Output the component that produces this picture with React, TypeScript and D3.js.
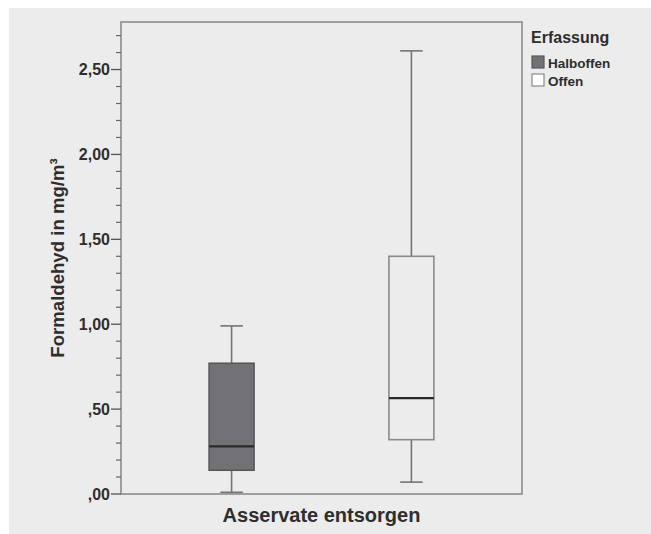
import React from "react";
import * as d3 from "d3";

// data
const categories = ["Asservate entsorgen"];
const series = ["Halboffen", "Offen"];
const whiskerLow = [0.01, 0.07];
const q1 = [0.14, 0.32];
const median = [0.28, 0.565];
const q3 = [0.77, 1.4];
const whiskerHigh = [0.99, 2.61];
const yTickValues = [0, 0.5, 1, 1.5, 2, 2.5];
const yTickLabels = [",00", ",50", "1,00", "1,50", "2,00", "2,50"];

const seriesFill = ["#727276", "none"];
const seriesStroke = ["#58585c", "#8a8a8a"];

const W = 651;
const H = 534;
const margin = { top: 22, right: 129, bottom: 40, left: 121 };
const font = "'Liberation Sans', Arial, Helvetica, sans-serif";
const textColor = "#2e2e2e";

const App = () => {
  const innerW = W - margin.left - margin.right;
  const innerH = H - margin.top - margin.bottom;

  const y = d3.scaleLinear().domain([0, 2.78]).range([margin.top + innerH, margin.top]);

  const x0 = d3
    .scaleBand()
    .domain(categories)
    .range([margin.left, margin.left + innerW]);

  // boxes inside the single category
  const x1 = d3
    .scaleBand()
    .domain(series)
    .range([x0(categories[0]), x0(categories[0]) + x0.bandwidth()])
    .paddingInner(0.75)
    .paddingOuter(0.49);

  const minorTicks = d3.range(1, 28).map((i) => i / 10).filter((v) => v * 10 % 5 !== 0);
  const axisX = margin.left;

  return (
    <svg
      width={W}
      height={H}
      style={{ position: "absolute", left: 0, top: 0, fontFamily: font }}
    >
      <rect x={0} y={0} width={W} height={H} fill="#ffffff" />
      <rect x={9} y={8} width={W - 9} height={H - 8} fill="#ececec" />

      {/* frame */}
      <rect
        x={margin.left}
        y={margin.top}
        width={innerW}
        height={innerH}
        fill="none"
        stroke="#8c8c8c"
        strokeWidth={1.6}
      />

      {/* y axis ticks */}
      {minorTicks.map((v) => (
        <line
          key={"m" + v}
          x1={axisX - 5}
          x2={axisX}
          y1={y(v)}
          y2={y(v)}
          stroke="#666"
          strokeWidth={1.2}
        />
      ))}
      {yTickValues.map((v, i) => (
        <g key={"t" + v}>
          <line x1={axisX - 10} x2={axisX} y1={y(v)} y2={y(v)} stroke="#555" strokeWidth={1.3} />
          <text
            x={axisX - 11}
            y={y(v)}
            dy="0.35em"
            textAnchor="end"
            fontSize={16}
            fontWeight="bold"
            fill={textColor}
          >
            {yTickLabels[i]}
          </text>
        </g>
      ))}

      {/* boxes */}
      {series.map((s, i) => {
        const bx = x1(s);
        const bw = x1.bandwidth();
        const cx = bx + bw / 2;
        const cap = bw / 4;
        return (
          <g key={s}>
            <line x1={cx} x2={cx} y1={y(whiskerHigh[i])} y2={y(q3[i])} stroke="#747474" strokeWidth={1.6} />
            <line x1={cx} x2={cx} y1={y(q1[i])} y2={y(whiskerLow[i])} stroke="#747474" strokeWidth={1.6} />
            <line x1={cx - cap} x2={cx + cap} y1={y(whiskerHigh[i])} y2={y(whiskerHigh[i])} stroke="#747474" strokeWidth={1.6} />
            <line x1={cx - cap} x2={cx + cap} y1={y(whiskerLow[i])} y2={y(whiskerLow[i])} stroke="#747474" strokeWidth={1.6} />
            <rect
              x={bx}
              y={y(q3[i])}
              width={bw}
              height={y(q1[i]) - y(q3[i])}
              fill={seriesFill[i]}
              stroke={seriesStroke[i]}
              strokeWidth={1.6}
            />
            <line x1={bx} x2={bx + bw} y1={y(median[i])} y2={y(median[i])} stroke="#2a2a2a" strokeWidth={2.2} />
          </g>
        );
      })}

      {/* axis titles */}
      <text
        x={x0(categories[0]) + x0.bandwidth() / 2}
        y={522}
        textAnchor="middle"
        fontSize={20}
        fontWeight="bold"
        fill={textColor}
      >
        {categories[0]}
      </text>
      <text
        transform={`translate(64,${margin.top + innerH / 2}) rotate(-90)`}
        textAnchor="middle"
        fontSize={18.6}
        fontWeight="bold"
        fill={textColor}
      >
        Formaldehyd in mg/m³
      </text>

      {/* legend */}
      <text x={531} y={43} fontSize={16} fontWeight="bold" fill={textColor}>
        Erfassung
      </text>
      {series.map((s, i) => (
        <g key={"l" + s} transform={`translate(532,${56 + i * 18})`}>
          <rect
            width={12}
            height={12}
            fill={seriesFill[i] === "none" ? "#ffffff" : seriesFill[i]}
            stroke={seriesStroke[i]}
            strokeWidth={1.2}
          />
          <text x={16} y={11.5} fontSize={13.5} fontWeight="bold" fill={textColor}>
            {s}
          </text>
        </g>
      ))}
    </svg>
  );
};

export default App;
